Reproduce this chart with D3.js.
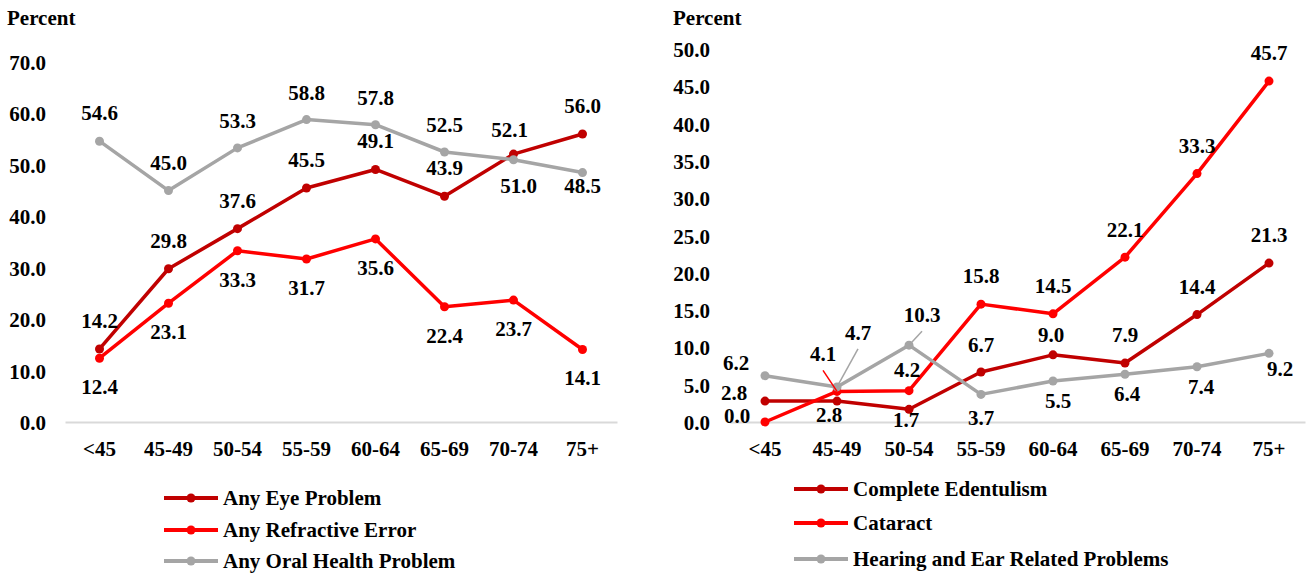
<!DOCTYPE html>
<html>
<head>
<meta charset="utf-8">
<script src="https://cdn.jsdelivr.net/npm/d3@7"></script>
</head>
<body style="margin:0; background:#fff">
<div id="chart"></div>
<script>
// age groups on the x axis
const ageGroups = ["<45", "45-49", "50-54", "55-59", "60-64", "65-69", "70-74", "75+"];

// left panel
const leftTicks = [0, 10, 20, 30, 40, 50, 60, 70];
const anyEyeProblem = [14.2, 29.8, 37.6, 45.5, 49.1, 43.9, 52.1, 56.0];
const anyRefractiveError = [12.4, 23.1, 33.3, 31.7, 35.6, 22.4, 23.7, 14.1];
const anyOralHealth = [54.6, 45.0, 53.3, 58.8, 57.8, 52.5, 51.0, 48.5];

// right panel
const rightTicks = [0, 5, 10, 15, 20, 25, 30, 35, 40, 45, 50];
const edentulism = [2.8, 2.8, 1.7, 6.7, 9.0, 7.9, 14.4, 21.3];
const cataract = [0.0, 4.1, 4.2, 15.8, 14.5, 22.1, 33.3, 45.7];
const hearingEar = [6.2, 4.7, 10.3, 3.7, 5.5, 6.4, 7.4, 9.2];

const darkRed = "#c00000", red = "#ff0000", grey = "#a5a5a5";
const FONT = '"Liberation Serif", "Times New Roman", serif';

// label nudges (px from the point, text baseline), leader = draw a line to the point
const up = [0, -21], down = [0, 36];
const leftPanel = {
  x0: 65, x1: 617, y0: 422, y1: 62, max: 70, ticks: leftTicks,
  titleX: 7, legendX: 164, legendY: [498, 530, 561],
  series: [
    { name: "Any Eye Problem", color: darkRed, values: anyEyeProblem,
      labels: [up, up, up, up, up, up, [-4, -17], up] },
    { name: "Any Refractive Error", color: red, values: anyRefractiveError,
      labels: [down, down, down, down, down, down, down, down] },
    { name: "Any Oral Health Problem", color: grey, values: anyOralHealth,
      labels: [up, up, [0, -20], [0, -20], [0, -20], [0, -20], [5, 33], [0, 20]] }
  ]
};
const rightPanel = {
  x0: 729, x1: 1305, y0: 422, y1: 49, max: 50, ticks: rightTicks,
  titleX: 673, legendX: 794, legendY: [489, 523, 559],
  series: [
    { name: "Complete Edentulism", color: darkRed, values: edentulism,
      labels: [[-31, -1], [-8, 21], [-3, 18], [0, -20], [-2, -13], up, up, up] },
    { name: "Cataract", color: red, values: cataract,
      labels: [[-28, 1], [-14, -30, true], [-2, -14], up, up, [0, -20], up, up] },
    { name: "Hearing and Ear Related Problems", color: grey, values: hearingEar,
      labels: [[-29, -6], [21, -47, true], [13, -23, true], [0, 31], [5, 27], [2, 27], [4, 27], [11, 23]] }
  ]
};

const svg = d3.select("#chart").append("svg")
  .attr("width", 1311)
  .attr("height", 573);

function styleText(sel) {
  sel.style("font-family", FONT)
    .style("font-weight", "bold")
    .style("font-size", "21px")
    .style("fill", "#000");
}

function drawPanel(p) {
  const x = d3.scaleBand().domain(ageGroups).range([p.x0, p.x1]).padding(0);
  const cx = d => x(d) + x.bandwidth() / 2;
  const y = d3.scaleLinear().domain([0, p.max]).range([p.y0, p.y1]);

  svg.append("text")
    .attr("x", p.titleX)
    .attr("y", 25)
    .text("Percent")
    .call(styleText);

  // x axis with light baseline
  const xAxis = svg.append("g")
    .attr("transform", `translate(0,${p.y0})`)
    .call(d3.axisBottom(x).tickSize(0).tickSizeOuter(0).tickPadding(19));
  xAxis.select(".domain").attr("stroke", "#d9d9d9").attr("stroke-width", 2);
  xAxis.selectAll("text").call(styleText);

  const yAxis = svg.append("g")
    .attr("transform", `translate(${p.x0},0)`)
    .call(d3.axisLeft(y).tickValues(p.ticks).tickFormat(d3.format(".1f")).tickSize(0).tickPadding(19));
  yAxis.select(".domain").remove();
  yAxis.selectAll("text").attr("dy", "0.36em").call(styleText);

  const line = d3.line()
    .x((d, i) => cx(ageGroups[i]))
    .y(d => y(d));

  p.series.forEach(s => {
    svg.append("path")
      .datum(s.values)
      .attr("fill", "none")
      .attr("stroke", s.color)
      .attr("stroke-width", 3.5)
      .attr("stroke-linejoin", "round")
      .attr("d", line);
    svg.selectAll(null)
      .data(s.values)
      .join("circle")
      .attr("cx", (d, i) => cx(ageGroups[i]))
      .attr("cy", d => y(d))
      .attr("r", 4.5)
      .attr("fill", s.color);
  });

  // data labels on top
  p.series.forEach(s => {
    s.values.forEach((v, i) => {
      const px = cx(ageGroups[i]), py = y(v);
      const [dx, dy, leader] = s.labels[i];
      if (leader) {
        svg.append("line")
          .attr("x1", px + dx).attr("y1", py + dy + 9)
          .attr("x2", px).attr("y2", py)
          .attr("stroke", s.color)
          .attr("stroke-width", 1.5);
      }
      svg.append("text")
        .attr("x", px + dx)
        .attr("y", py + dy)
        .attr("text-anchor", "middle")
        .text(d3.format(".1f")(v))
        .call(styleText);
    });
  });

  // legend
  p.series.forEach((s, i) => {
    const ly = p.legendY[i];
    const g = svg.append("g");
    g.append("line")
      .attr("x1", p.legendX).attr("x2", p.legendX + 54)
      .attr("y1", ly).attr("y2", ly)
      .attr("stroke", s.color).attr("stroke-width", 4);
    g.append("circle")
      .attr("cx", p.legendX + 27).attr("cy", ly)
      .attr("r", 4.5).attr("fill", s.color);
    g.append("text")
      .attr("x", p.legendX + 59)
      .attr("y", ly + 7)
      .text(s.name)
      .call(styleText);
  });
}

drawPanel(leftPanel);
drawPanel(rightPanel);
</script>
</body>
</html>
